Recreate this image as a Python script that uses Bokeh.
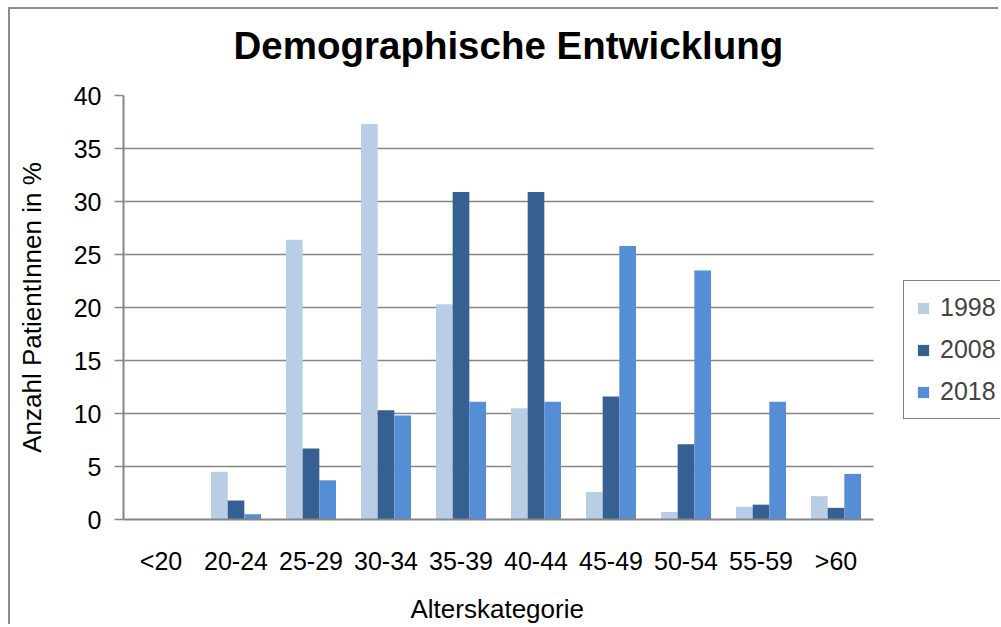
from bokeh.plotting import figure
from bokeh.models import ColumnDataSource, Range1d, Legend, LegendItem, SingleIntervalTicker, FixedTicker, Title
from bokeh.transform import dodge
from bokeh.embed import file_html
from bokeh.resources import INLINE

categories = ["<20", "20-24", "25-29", "30-34", "35-39", "40-44", "45-49", "50-54", "55-59", ">60"]
years = ["1998", "2008", "2018"]
values_1998 = [0, 4.5, 26.4, 37.3, 20.3, 10.5, 2.6, 0.7, 1.2, 2.2]
values_2008 = [0, 1.8, 6.7, 10.3, 30.9, 30.9, 11.6, 7.1, 1.4, 1.1]
values_2018 = [0, 0.5, 3.7, 9.8, 11.1, 11.1, 25.8, 23.5, 11.1, 4.3]
colors = ["#B9CDE5", "#376092", "#558ED5"]

n = len(categories)
centers = [i + 0.5 for i in range(n)]
source = ColumnDataSource(dict(x=centers, y1998=values_1998, y2008=values_2008, y2018=values_2018))

FONT = "Liberation Sans"
GRID = "#868686"

W, H = 990, 617
BL, BT, BB = 113, 86, 107
FRAME_W = W - BL
PLOT_W = 750  # pixels used by the categories

p = figure(
    x_range=Range1d(0, n * FRAME_W / PLOT_W),
    y_range=Range1d(0, 40),
    width=W, height=H,
    min_border_left=BL, min_border_right=0, min_border_top=BT, min_border_bottom=BB,
    output_backend="svg", toolbar_location=None,
    title="Demographische Entwicklung",
)
p.styles = {"margin-left": "8px", "margin-top": "7px",
            "border-left": "2px solid #8c8c8c", "border-top": "2px solid #8c8c8c"}

w = 1 / 4.5
renderers = []
for i, (col, c) in enumerate(zip(["y1998", "y2008", "y2018"], colors)):
    r = p.vbar(x=dodge("x", (i - 1) * w), top=col, width=w,
               source=source, fill_color=c, line_color=None)
    renderers.append(r)

p.title.text_font = FONT
p.title.text_font_size = "38.5px"
p.title.text_font_style = "bold"
p.title.text_color = "black"
p.title.align = "left"
p.title.offset = 110
p.title.standoff = 2

# spacer between title and plot area
p.add_layout(Title(text=" ", text_font_size="10px", standoff=15), "above")

p.outline_line_color = None
p.background_fill_color = "white"
p.border_fill_color = "white"

p.yaxis.ticker = SingleIntervalTicker(interval=5)
p.ygrid.grid_line_color = GRID
p.ygrid.grid_line_width = 1.5
p.ygrid.cross_bounds = (0, n)
p.xgrid.grid_line_color = None

for ax in [p.xaxis[0], p.yaxis[0]]:
    ax.axis_line_color = GRID
    ax.axis_line_width = 2
    ax.major_label_text_font = FONT
    ax.major_label_text_font_size = "25px"
    ax.major_label_text_color = "black"
    ax.axis_label_text_font = FONT
    ax.axis_label_text_font_style = "normal"
    ax.axis_label_text_color = "black"
    ax.minor_tick_line_color = None

p.yaxis.axis_label = "Anzahl PatientInnen in %"
p.yaxis.axis_label_text_font_size = "26px"
p.yaxis.major_tick_out = 9
p.yaxis.major_tick_in = 0
p.yaxis.major_tick_line_color = GRID
p.yaxis.major_tick_line_width = 1.5
p.yaxis.major_label_standoff = 13
p.yaxis.axis_label_standoff = 24

p.xaxis.bounds = (0, n)
p.xaxis.ticker = FixedTicker(ticks=centers)
p.xaxis.major_label_overrides = {c: lab for c, lab in zip(centers, categories)}
p.xaxis.major_tick_line_color = None
p.xaxis.major_tick_out = 0
p.xaxis.major_label_standoff = 27
# small spacer below the tick labels
p.xaxis.axis_label = " "
p.xaxis.axis_label_text_font_size = "10px"
p.xaxis.axis_label_standoff = 0

p.add_layout(Title(text="Alterskategorie", text_font=FONT, text_font_size="26px",
                   text_font_style="normal", text_color="black", align="left", offset=287,
                   standoff=0), "below")

legend = Legend(
    items=[LegendItem(label=y, renderers=[r]) for y, r in zip(years, renderers)],
    location=(780, 100),
    label_text_font=FONT, label_text_font_size="25px",
    glyph_width=14, glyph_height=14, label_height=20, spacing=13,
    padding=12, label_standoff=10,
    border_line_color="black", border_line_width=1,
    background_fill_alpha=1,
)
p.add_layout(legend, "center")

open("out.html", "w").write(file_html(p, INLINE))
